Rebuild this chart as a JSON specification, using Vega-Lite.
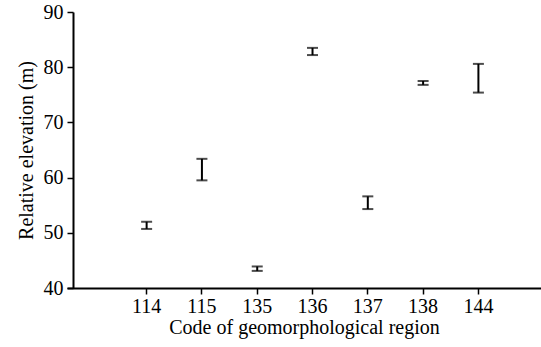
{
  "$schema": "https://vega.github.io/schema/vega-lite/v6.json",
  "width": 474,
  "height": 276,
  "autosize": {"type": "none"},
  "padding": {"left": 67, "top": 12, "right": 0, "bottom": 59},
  "background": "white",
  "data": {
    "values": [
      {"region": "114", "low": 50.7, "high": 52.0},
      {"region": "115", "low": 59.5, "high": 63.4},
      {"region": "135", "low": 43.1, "high": 43.9},
      {"region": "136", "low": 82.2, "high": 83.5},
      {"region": "137", "low": 54.3, "high": 56.6},
      {"region": "138", "low": 76.8, "high": 77.5},
      {"region": "144", "low": 75.4, "high": 80.6}
    ]
  },
  "encoding": {
    "x": {
      "field": "region",
      "type": "ordinal",
      "sort": null,
      "scale": {"type": "band", "paddingInner": 0, "paddingOuter": 0.786, "align": 0.598},
      "axis": {
        "title": "Code of geomorphological region",
        "labelAngle": 0,
        "grid": false,
        "domainWidth": 2,
        "tickSize": 6,
        "tickWidth": 1.5,
        "labelPadding": 2,
        "titlePadding": 1
      }
    }
  },
  "layer": [
    {
      "mark": {"type": "rule", "color": "black", "strokeWidth": 2},
      "encoding": {
        "y": {
          "field": "low",
          "type": "quantitative",
          "scale": {"domain": [40, 90], "nice": false, "zero": false},
          "axis": {
            "title": "Relative elevation (m)",
            "values": [40, 50, 60, 70, 80, 90],
            "grid": false,
            "offset": -6,
            "domainWidth": 2,
            "tickSize": 6,
            "tickWidth": 1.5,
            "labelPadding": 4,
            "titlePadding": 7
          }
        },
        "y2": {"field": "high"}
      }
    },
    {
      "mark": {"type": "tick", "orient": "horizontal", "color": "black", "size": 11, "thickness": 2},
      "encoding": {"y": {"field": "low", "type": "quantitative"}}
    },
    {
      "mark": {"type": "tick", "orient": "horizontal", "color": "black", "size": 11, "thickness": 2},
      "encoding": {"y": {"field": "high", "type": "quantitative"}}
    }
  ],
  "config": {
    "view": {"stroke": null},
    "axis": {
      "labelFont": "Liberation Serif",
      "titleFont": "Liberation Serif",
      "labelFontSize": 20,
      "titleFontSize": 20,
      "titleFontWeight": "normal",
      "labelColor": "black",
      "titleColor": "black",
      "domainColor": "black",
      "tickColor": "black"
    }
  }
}
